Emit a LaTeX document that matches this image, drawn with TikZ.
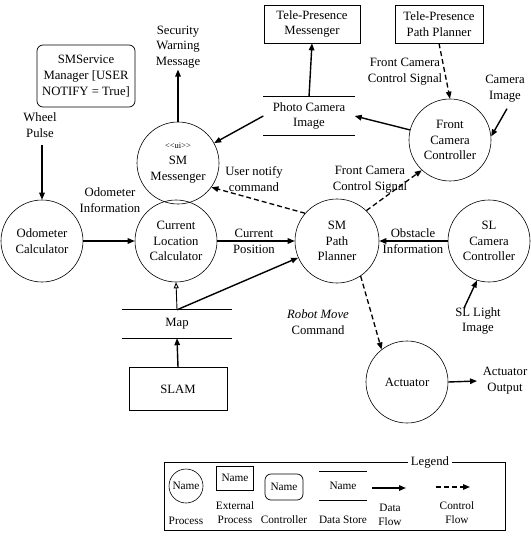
\documentclass[tikz,border=0pt]{standalone}
\usepackage{fontspec}
\setmainfont{Liberation Serif}
\usetikzlibrary{arrows.meta,shapes.geometric,calc}
\begin{document}
\begin{tikzpicture}[x=1pt,y=-1pt,
  every node/.style={font=\fontsize{12.7}{15.8}\selectfont, align=center, inner sep=1pt},
  proc/.style={draw, circle, minimum size=82pt, inner sep=0pt, line width=0.6pt},
  ext/.style={draw, rectangle, inner sep=0pt, line width=0.7pt},
  ctrl/.style={draw, rectangle, rounded corners=6pt, inner sep=0pt, line width=0.7pt},
  flow/.style={-{Triangle[length=7pt,width=5.5pt]}, line width=1.4pt},
  thinflow/.style={-{Triangle[length=6pt,width=5pt,open]}, line width=0.9pt},
  ctl/.style={-{Triangle[length=7pt,width=5.5pt]}, line width=1.3pt, dash pattern=on 5pt off 3pt},
  storeline/.style={line width=1.2pt},
  small/.style={font=\fontsize{11.3}{14}\selectfont}
]
\useasboundingbox (0,0) rectangle (530,537);

% top row
\node[ctrl, minimum width=98pt, minimum height=62pt] (svc) at (86,76) {SMService\\Manager [USER\\NOTIFY = True]};
\node (warn) at (178,47) {Security\\Warning\\Message};
\node[proc] (msg) at (178,163) {{\fontsize{8.5}{10}\selectfont {<}{<}ui{>}{>}}\\SM\\Messenger};
\node[ext, minimum width=96pt, minimum height=38pt] (tpm) at (312,24) {Tele-Presence\\Messenger};
\node[ext, minimum width=88pt, minimum height=38pt] (tpp) at (439,24) {Tele-Presence\\Path Planner};
\node[minimum width=91pt, minimum height=38pt] (ph) at (309,116) {Photo Camera\\Image};
\draw[storeline] (ph.north west) -- (ph.north east);
\draw[storeline] (ph.south west) -- (ph.south east);
\node[proc] (fcc) at (450,140) {Front\\Camera\\Controller};
\node (camimg) at (505,89) {Camera\\Image};
\node (fcs1) at (405,72) {Front Camera\\Control Signal};

% middle row
\node (wheel) at (40,125) {Wheel\\Pulse};
\node[proc] (od) at (42,241) {Odometer\\Calculator};
\node (odinf) at (110,200) {Odometer\\Information};
\node[proc] (cl) at (176,241) {Current\\Location\\Calculator};
\node (cpos) at (254,241) {Current\\Position};
\node[proc, minimum size=84pt] (pp) at (337,241) {SM\\Path\\Planner};
\node (obs) at (413,241) {Obstacle\\Information};
\node[proc] (sl) at (489,241) {SL\\Camera\\Controller};
\node (uncmd) at (254,179) {User notify\\command};
\node (fcs2) at (370,180) {Front Camera\\Control Signal};

% lower
\node[minimum width=110pt, minimum height=28pt] (map) at (177,324) {Map};
\draw[storeline] (map.north west) -- (map.north east);
\draw[storeline] (map.south west) -- (map.south east);
\node[ext, minimum width=98pt, minimum height=43pt] (slam) at (178,389) {SLAM};
\node (rmc) at (318,322) {\itshape Robot Move\\Command};
\node (slimg) at (478,321) {SL Light\\Image};
\node[proc] (act) at (407,382) {Actuator};
\node (aout) at (505,381) {Actuator\\Output};
\coordinate (aoutend) at (477,381);

% connectors
\draw[flow] (msg.north) -- (warn.south);
\draw[flow] (ph.north) -- (tpm.south);
\draw[flow] (ph.west) -- (msg);
\draw[flow] (fcc) -- (ph.east);
\draw[ctl] (tpp.south) -- (fcc.north);
\draw[flow] ([xshift=2pt,yshift=-5pt]camimg.south) -- (fcc.5);
\draw[flow] ([xshift=-14pt,yshift=-2pt]slimg.north) -- (sl.-107);
\draw[flow] (sl) -- (pp);
\draw[flow] (cl) -- (pp);
\draw[flow] (od) -- (cl);
\draw[flow] ([yshift=-6pt]wheel.south -| od.north) -- (od.north);
\draw[thinflow] (map.north) -- (cl.south);
\draw[flow] (map.north) -- (pp);
\draw[flow] (slam.north) -- (map.south);
\draw[ctl] (pp.-56) -- (act.128);
\draw[ctl] (pp.139) -- (msg.-36);
\draw[ctl] (pp.46) -- (fcc.-133);
\draw[flow] (act.east) -- (aoutend);

% legend
\node[draw, rectangle, minimum width=341pt, minimum height=68pt, line width=0.7pt] (leg) at (334.5,496) {};
\node[fill=white, inner sep=3pt] (legt) at (430,462) {Legend};
\node[proc, minimum size=34pt, small] (lp) at (186,486) {Name};
\node[small] (lpl) at (186,521) {Process};
\node[ext, minimum width=37pt, minimum height=24pt, small] (le) at (235,478) {Name};
\node[small] (lel) at (235,513) {External\\Process};
\node[ctrl, minimum width=38pt, minimum height=26pt, small] (lc) at (284,487) {Name};
\node[small] (lcl) at (284,520) {Controller};
\node[minimum width=48pt, minimum height=28pt, small] (ld) at (343,486) {Name};
\draw[storeline] (ld.north west) -- (ld.north east);
\draw[storeline] (ld.south west) -- (ld.south east);
\node[small] (ldl) at (343,520) {Data Store};
\coordinate (dfa) at (372,488);
\coordinate (dfb) at (406,488);
\draw[flow] (dfa) -- (dfb);
\node[small] (dfl) at (390,515) {Data\\Flow};
\coordinate (cfa) at (436,487);
\coordinate (cfb) at (470,487);
\draw[ctl] (cfa) -- (cfb);
\node[small] (cfl) at (457,513) {Control\\Flow};
\end{tikzpicture}
\end{document}
